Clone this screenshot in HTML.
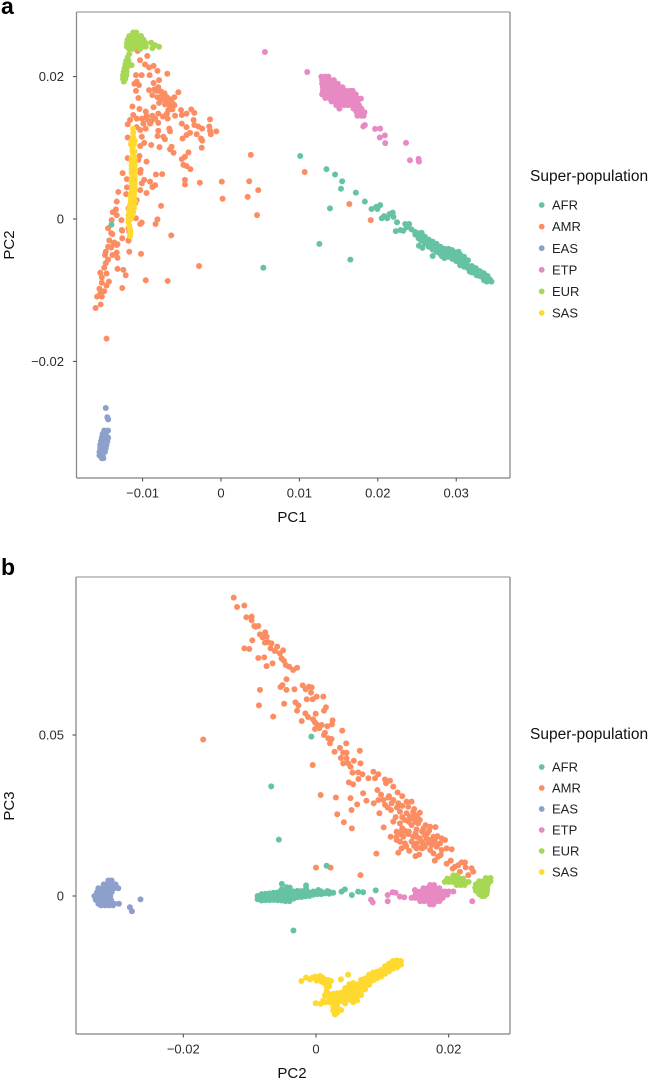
<!DOCTYPE html>
<html lang="en">
<head>
<meta charset="utf-8">
<title>PCA scatter plots by super-population</title>
<style>
html,body{margin:0;padding:0;background:#fff;}
#chart{display:block;width:649px;height:1081px;font-family:"Liberation Sans",Arial,sans-serif;}
</style>
</head>
<body>
<svg id="chart" xmlns="http://www.w3.org/2000/svg" width="649" height="1081" viewBox="0 0 649 1081"></svg>
<script>
/* Categories and colours */
const populations = ["AFR","AMR","EAS","ETP","EUR","SAS"];
const palette = ["#66C2A5","#FC8D62","#8DA0CB","#E78AC3","#A6D854","#FFD92F"];
const drawOrder = ["AMR","AFR","EAS","ETP","EUR","SAS"];

/* Tick values and labels */
const ticksAX = [-0.01,0,0.01,0.02,0.03];
const labelsAX = ["\u22120.01","0","0.01","0.02","0.03"];
const ticksAY = [-0.02,0,0.02];
const labelsAY = ["\u22120.02","0","0.02"];
const ticksBX = [-0.02,0,0.02];
const labelsBX = ["\u22120.02","0","0.02"];
const ticksBY = [0,0.05];
const labelsBY = ["0","0.05"];

/* Values are in units of 0.001 : [x, y] */
const unit = 0.001;

/* Panel a : PC1, PC2 */
const a_AMR = [[-10.63,23.6],[-9.4,22.9],[-10.33,22.3],[-9.69,21.7],[-9.18,21.3],[-8.6,21.5],[-8.1,20.8],[-6.85,20.4],[-10.84,20.2],[-10.12,20.2],[-9.1,20.2],[-7.9,19.5],[-8.6,19.1],[-10.75,19.3],[-11.05,19],[-10.46,18.8],[-10.84,18],[-10.54,17],[-9.18,18.1],[-8.5,18.2],[-8.76,17.4],[-8,18.5],[-7.65,17.9],[-7.2,17.65],[-8.1,17.1],[-7.5,16.8],[-6.9,17.1],[-6.5,16.8],[-5.95,17.1],[-5.44,17.8],[-7.9,16.3],[-7.14,16.1],[-6.5,15.8],[-5.95,16],[-6.72,15.3],[-8.6,15.7],[-11.3,15.8],[-10.4,15.45],[-9.6,15.1],[-8.76,14.5],[-8,14.8],[-6.9,14.8],[-6.8,14.1],[-5.86,14.5],[-5.1,15.3],[-5,14.6],[-4.4,14.8],[-3.8,15.4],[-3.4,14.9],[-1.4,14],[-3.5,13.9],[-5,13.4],[-4.4,12.9],[-3.4,13.2],[-2.9,13],[-2.4,12.7],[-1.5,13],[-1.4,12.4],[-1.3,11.9],[-0.6,12.3],[-3.1,11.9],[-3.95,12.1],[-4.4,11.8],[-4.9,11.3],[-2.55,11.3],[-2.4,11],[-2.46,10],[-6.6,12.7],[-6.5,12.3],[-8,12.4],[-8.1,11.65],[-7.35,11.55],[-7.15,11.2],[-9.6,12.7],[-10.1,11.55],[-10.75,12.9],[-10.3,12.5],[-11.9,11.45],[-10.75,14.1],[-11.6,13.9],[-11.9,13.3],[-11.2,14.6],[-10.1,14.1],[-9.5,14.5],[-9.9,13.4],[-9.05,13.4],[-8.4,14.1],[-8,13.5],[-8.9,10.4],[-7.85,10.1],[-6.3,10.15],[-6.5,9.8],[-6.05,9.3],[-9.8,10.7],[-10.3,10.25],[-4.15,9.35],[-4.6,8.75],[-5,8.4],[-4.8,7.6],[-4.4,7.45],[-3.9,7],[3.8,9],[-10.4,8.85],[-10.55,8.3],[-9.5,8.05],[-11.9,8.55],[-12.55,6.45],[-10.25,6.9],[-10.3,6.5],[-8.3,6.25],[-7.5,6.3],[-12,5.6],[-9.8,5.5],[-10.1,5],[-9.05,5.25],[-8.4,4.75],[-8.75,4.5],[-4.6,5.5],[-4.6,4.85],[-2.7,5.1],[0.1,5.25],[3.6,5.3],[4.75,4.05],[3.4,3.1],[0.2,2.85],[-12,4.45],[-13.1,3.8],[-12.1,3.5],[-10.3,4.05],[-9.5,3.65],[-13.3,2.45],[-7.65,1.85],[-10.75,2.65],[-10.95,2.2],[-13.4,1.35],[-13.8,0.95],[-13.3,0.55],[-11.8,1.5],[-11.2,1],[4.6,0.55],[-8.1,-0.05],[-8.35,-0.7],[-10.1,-0.5],[-10.3,-0.7],[-10.85,0.1],[-12.7,-0.15],[-13.95,-0.15],[-14.4,-1.3],[-14,-2],[-12.65,-1.55],[-11.8,-1.3],[-11.6,-1.8],[-6.35,-2.3],[-12.6,-2.7],[-14.25,-3],[-11.8,-3.05],[-13.7,-3.4],[-13.3,-3.65],[-14.4,-3.9],[-13.85,-2.1],[-12.6,-1.64],[-11.7,-1.8],[-11.8,-3],[-13.6,-3.3],[-13.2,-3.55],[-14,-4],[-13.3,-4.7],[-11.7,-4.6],[-10.2,-4.9],[-14.7,-4.6],[-13.85,-5.05],[-14.8,-5.05],[-13.2,-5.45],[-14.4,-5.7],[-14.7,-6.2],[-14.9,-6.85],[-13.2,-7],[-12.45,-7.15],[-12.15,-7.9],[-15.4,-7.55],[-14.6,-7.65],[-15.2,-8.2],[-9.6,-8.6],[-6.8,-8.7],[-2.8,-6.6],[-14.3,-8.8],[-15.2,-8.95],[-14.6,-9.35],[-15.5,-9.8],[-14.9,-10.15],[-12.6,-9.7],[-15.4,-10.5],[-15.8,-10.9],[-15.2,-10.9],[-15.35,-12],[-16,-12.5],[-14.6,-16.8],[10.67,6.6],[16.37,2.1],[19.1,-0.15],[-7.3,17],[-6.9,16.4],[-6.2,16.3],[-7.5,17.5],[-8.2,18],[-6.2,15.4],[-9.4,14],[-8.9,13.7],[-7.4,14.4]];
const a_AFR = [[10.1,8.85],[13.45,7],[14.55,6.25],[15.45,5.3],[15.3,4.25],[17.2,3.7],[18.35,2.45],[13.9,1.5],[12.55,-3.5],[16.5,-5.7],[5.4,-6.85],[-13.98,-0.8],[19.2,1.4],[19.8,1.7],[19.95,1.4],[20.3,1.95],[20.5,0.1],[20.8,0.4],[21.2,0.1],[21.5,0.7],[21.9,0.9],[22,0.3],[22.45,-0.45],[22.3,-1.7],[22.9,-1.55],[23.25,-1.65],[23.5,-0.7],[24,-0.7],[23.7,-1.15],[24.3,-1.45],[24.75,-1.8],[25.2,-2.25],[25.6,-1.95],[25.2,-2.7],[25.7,-2.5],[26.2,-2.85],[25.8,-3.05],[25.25,-3.75],[25.7,-4.05],[26.65,-3.45],[27,-3.8],[27.3,-4.1],[27.7,-3.9],[27.5,-4.6],[28,-4.35],[28.4,-4.75],[28.15,-5.2],[28.6,-5.3],[29,-4.35],[29.4,-4.35],[29.2,-4.9],[29.6,-4.75],[30.05,-5.05],[29.65,-5.55],[30.05,-5.75],[30.5,-5.55],[30.9,-5.75],[30.5,-6.25],[30.9,-6.45],[31.35,-6.25],[31.55,-6.95],[32,-7.2],[32.4,-7.4],[32.8,-7.65],[33.25,-8.1],[33.65,-7.85],[34.1,-8.35],[34.5,-8.8],[33.55,-8.6],[27,-5.2],[28.8,-4.85],[29.85,-5.3],[30.7,-6],[31.75,-7.4],[32.6,-7.9],[33.9,-8.8],[26.9,-3.2],[27.85,-4.75],[30.3,-4.6],[31.1,-6],[26.5,-2.9],[26.5,-3.9],[27,-3.2],[27,-4.3],[27.5,-3.5],[27.5,-4.2],[28,-3.9],[28,-4.9],[28.5,-4.2],[28.5,-5.5],[29,-4.2],[29,-5.3],[29.5,-4.4],[29.5,-5.6],[30,-4.7],[30,-5.9],[30.5,-5],[30.5,-6.5],[31,-5.3],[31,-6.7],[31.5,-5.8],[31.5,-6.9],[32,-6.6],[32,-7.5],[32.5,-6.9],[32.5,-7.7],[33,-7.3],[33,-8],[33.5,-7.6],[33.5,-8.3],[34,-8],[34,-8.7],[34.3,-8.5],[24.8,-2.2],[25.3,-2],[25.5,-3],[26,-2.5],[26,-3.4]];
const a_EAS = [[-14.7,-26.55],[-14.5,-27.85],[-14.4,-28.15],[-14.9,-29.7],[-14.4,-29.7],[-15.1,-30.2],[-14.7,-30.2],[-15.2,-30.7],[-14.8,-30.7],[-14.4,-30.7],[-15.3,-31.2],[-14.9,-31.2],[-14.5,-31.2],[-15.4,-31.7],[-15,-31.7],[-14.6,-31.7],[-15.4,-32.2],[-15,-32.2],[-14.7,-32.2],[-15.5,-32.7],[-15.1,-32.7],[-14.8,-32.7],[-15.5,-33.2],[-15.1,-33.2],[-15.2,-33.6],[-15,-33.6]];
const a_ETP = [[5.6,23.45],[11,20.65],[18.15,13],[18.35,13.2],[19.65,12.65],[20.3,12.7],[20.25,11.45],[20.9,11.75],[20.95,10.65],[23.6,10.7],[24.1,8.25],[25.2,8.45],[25.25,8.05],[12.8,20],[13.3,20],[13.7,20],[12.9,19.5],[13.4,19.5],[13.9,19.5],[14.4,19.5],[12.9,19],[13.4,19],[13.9,19],[14.4,19],[14.9,19],[13,18.5],[13.5,18.5],[14,18.5],[14.5,18.5],[15,18.5],[15.5,18.5],[13,18],[13.5,18],[14,18],[14.5,18],[15,18],[15.5,18],[16,18],[16.5,18],[16.8,18],[12.9,17.5],[13.4,17.5],[13.9,17.5],[14.4,17.5],[14.9,17.5],[15.4,17.5],[15.9,17.5],[16.4,17.5],[16.9,17.5],[17.2,17.5],[13.3,17],[13.8,17],[14.3,17],[14.8,17],[15.3,17],[15.8,17],[16.3,17],[16.8,17],[17.3,17],[17.85,16.9],[14.1,16.5],[14.6,16.5],[15.1,16.5],[15.6,16.5],[16.1,16.5],[16.6,16.5],[17.1,16.5],[17.4,16.5],[14.7,16],[15.2,16],[15.7,16],[16.2,16],[16.7,16],[17.2,16],[17.6,16],[15.1,15.5],[16.9,15.5],[17.4,15.5],[17.9,15.5],[17.3,15],[17.8,15],[18.3,15],[17.4,14.5],[17.9,14.5],[18.2,14.5]];
const a_EUR = [[-11.2,26.2],[-10.8,26.2],[-11.7,25.7],[-11.2,25.7],[-10.7,25.7],[-10.2,25.7],[-11.9,25.2],[-11.4,25.2],[-10.9,25.2],[-10.4,25.2],[-9.9,25.2],[-12,24.7],[-11.5,24.7],[-11,24.7],[-10.5,24.7],[-10,24.7],[-9.6,24.7],[-12,24.2],[-11.5,24.2],[-11,24.2],[-10.5,24.2],[-10,24.2],[-9.6,24.2],[-11.7,23.9],[-11.2,23.9],[-10.3,23.9],[-8.9,24.75],[-8.75,24],[-8.4,24.4],[-7.9,24.2],[-11.7,23.2],[-11.9,22.7],[-12.1,22.2],[-11.8,22.2],[-12.2,21.7],[-11.9,21.7],[-12.3,21.2],[-12,21.2],[-12.4,20.7],[-12.05,20.7],[-12.5,20.2],[-12.1,20.2],[-12.5,19.7],[-12.2,19.7],[-12.4,19.3],[-11.4,21.6]];
const a_SAS = [[-11.2,12.7],[-11.2,12.1],[-11.2,11.5],[-11.4,11],[-11,11],[-11.5,10.5],[-11.1,10.5],[-11.3,10],[-11.3,9.5],[-11,9.5],[-11.2,9],[-11.4,8.5],[-11,8.5],[-11.4,8],[-11,8],[-11.4,7.5],[-11,7.5],[-11.4,7],[-11,7],[-11.4,6.5],[-11.1,6.5],[-11.3,6],[-11,6],[-11.4,5.5],[-11,5.5],[-11.4,5],[-11,5],[-11.3,4.5],[-11,4.5],[-11.4,4],[-11,4],[-11.5,3.5],[-11.1,3.5],[-11.5,3],[-11.1,3],[-11.5,2.5],[-11,2.5],[-11.6,2],[-11.1,2],[-11.7,1.5],[-11.1,1.5],[-11.7,1],[-11.2,1],[-11.8,0.5],[-11.3,0.5],[-11.8,0],[-11.5,0],[-11.8,-0.5],[-11.7,-1],[-11.6,-1.5],[-11.6,-2],[-11.6,-2.4]];

/* Panel b : PC2, PC3 */
const b_AMR = [[-12.4,92.65],[-11.9,89.75],[-10.8,90.2],[-10.5,86.55],[-9.7,86.75],[-9.7,85.6],[-9.3,83.85],[-8.7,83.85],[-9.05,83.6],[-8.45,81.25],[-7.65,81.9],[-8.05,80.3],[-7.45,80.55],[-9.6,79.4],[-7.7,78.7],[-7.2,78.8],[-6.7,78.45],[-5.85,77.45],[-6.85,76.9],[-6.2,76.1],[-4.95,76.3],[-5.45,75.35],[-10.8,76.9],[-10.05,76.7],[-8.7,73.9],[-7.8,74.1],[-6.55,72.25],[-7.45,71.4],[-5.2,73.8],[-4.85,73.1],[-4.55,71.75],[-4.05,71.2],[-3.45,70.2],[-2.85,70.9],[-4.45,67.3],[-5.05,65.5],[-5.35,64.9],[-4.45,64],[-3.25,64.2],[-8.45,64],[-8.6,59.2],[-4.8,59.7],[-6.45,55.7],[-2,65.4],[-1.55,64.2],[-1.05,65],[-0.65,64.8],[-0.75,63.15],[-1.4,61.1],[-0.5,61.1],[0.1,61.9],[1.1,61.9],[-3.1,60.15],[-2.65,59.2],[-2.85,57.55],[-1.6,56.7],[-1.2,55.6],[-0.05,56.6],[1.5,58.6],[1.2,57.55],[-2.15,54.35],[-0.45,54.85],[-0.15,53.9],[2.5,54.55],[2.4,53.3],[1.7,52.7],[0.85,53.1],[0.2,53.1],[-0.15,51.85],[0.5,52.15],[3.95,51.35],[1.35,50.7],[1.2,50],[1.85,49],[2.35,48.75],[2.1,47.4],[4.55,47.4],[3.6,46],[2.8,44.8],[4.1,44.5],[4.6,44.5],[6.6,45.1],[3.75,42.85],[4.6,42.75],[6.7,41.2],[4.1,41.2],[4.85,41.2],[5.7,42],[5.2,40.15],[5.5,38.3],[6.35,38.4],[7,37.8],[6.4,36.35],[4.95,35.3],[5.6,34.7],[-0.5,40.7],[0.7,31.35],[3,30.6],[5.2,30.4],[3.2,25.4],[4.2,22.9],[5.4,21],[5.35,26.7],[6.2,28.45],[7.1,31.9],[7.6,29.6],[8.7,28.8],[9.25,32.9],[9.55,25.7],[10.2,21.3],[9.1,13.15],[0,8.8],[2.2,8.8],[6.7,6.5],[7.9,36.55],[8.65,38.6],[9.4,37.8],[8.9,36.55],[10.4,36.2],[11.15,35.8],[11.65,33.95],[12.3,32.2],[10.55,35],[9.4,29.8],[10.15,29.8],[10.9,30.6],[11.65,29.8],[10.4,28.3],[11.4,28.8],[12.4,28.8],[13.65,29.3],[14.4,29.3],[11.3,26.7],[12.65,26.2],[13.65,25.7],[14.65,26.2],[15.65,25.9],[13.9,27.7],[11.65,23.1],[12.65,22.55],[13.4,23.6],[14.65,24.1],[15.4,22.55],[14.4,22],[15.15,20.7],[17.2,21.5],[18,21.4],[17.05,20.3],[12.15,20],[11.25,18.4],[12.15,18.4],[13.15,18.4],[13.9,19.25],[14.65,18.4],[15.65,17.9],[16.4,18.95],[17.2,17.4],[18.3,18.6],[18.95,17.9],[19.45,17.4],[12.65,16.9],[13.4,16.35],[14.4,16.9],[15.15,16.35],[16.15,16.35],[17.9,16.9],[12.15,17.4],[12.9,14.8],[14.05,14],[15.15,14.8],[16.4,15.3],[17.2,14.3],[18.2,15.3],[18.95,14.3],[19.7,14.8],[20.45,14.5],[12.4,13.45],[15,12.4],[15.55,12.9],[17.7,13.25],[18.4,12.2],[18.8,12.75],[17.9,11],[20.3,11],[19.7,10],[20.6,8.5],[21.45,9.6],[21.95,10.45],[22.45,10.45],[22.55,8.9],[21.7,7.55],[22.95,6.5],[23.45,8.6],[23.7,7.55],[20.95,9.1],[15.65,23.6],[14.9,25.15],[14.15,24.6],[12.9,20],[15.15,18.4],[15.9,16.9],[16.65,17.9],[17.4,15.85],[18.7,16.35],[17.7,18.4],[-17,48.6],[13,21],[14,20],[15,19.5],[16,20],[16.5,22],[15,23],[14,23],[13,24.5],[12,24.5],[14.8,27],[15.3,24.3],[16.2,21],[16,14.8],[17,16.5],[18,18],[13.6,15.4],[14.8,15.5],[15.8,15],[16.8,19.5],[12.2,27.5],[10.8,27.5],[13,28],[11,31],[9.8,31.5],[13,31],[12.8,19.3],[13.5,20.2]];
const b_AFR = [[-0.7,49.5],[-6.75,34.05],[-5.6,17.5],[1.6,9.4],[-3.4,-10.7],[-8.8,-1],[-8.8,0],[-8.2,-1.4],[-8.2,-0.2],[-8.2,0.6],[-7.6,-1.3],[-7.6,-0.2],[-7.6,0.7],[-7,-1.3],[-7,-0.1],[-7,0.8],[-6.4,-1.2],[-6.4,0],[-6.4,1],[-5.8,-1.3],[-5.8,-0.1],[-5.8,1.1],[-5.2,-1.4],[-5.2,-0.3],[-5.2,1],[-5.2,2],[-4.6,-1.6],[-4.6,-0.4],[-4.6,0.8],[-4.6,1.8],[-4,-1.6],[-4,-0.3],[-4,0.9],[-3.4,-0.8],[-3.4,0.4],[-3.4,1.4],[-2.8,-0.4],[-2.8,0.8],[-2.8,1.6],[-2.2,-0.3],[-2.2,0.8],[-2.2,1.5],[-1.6,-0.1],[-1.6,1.1],[-1.5,2.3],[-1.5,3.3],[-1,0],[-1,1.1],[-0.4,0.4],[-0.4,1.4],[0.2,0.6],[0.35,1.85],[0.8,0.6],[0.8,1.4],[1.4,0.8],[1.7,1.5],[2,0.7],[2,1.3],[2.6,1],[3.85,1.35],[4.35,2.05],[5.4,0.3],[6.35,1.35],[7.1,1.15],[9,1.75],[-5.15,3.75],[-4.45,2.7],[-3.95,2.6]];
const b_EAS = [[-31.3,4.8],[-30.8,4.8],[-32,3.6],[-31.4,3.6],[-30.8,3.6],[-30.2,3.6],[-32.8,2.4],[-32.2,2.4],[-31.6,2.4],[-31,2.4],[-30.4,2.4],[-29.8,2.4],[-33,1.2],[-32.4,1.2],[-31.8,1.2],[-31.2,1.2],[-30.8,1.2],[-33.4,0],[-32.8,0],[-32.2,0],[-31.6,0],[-31,0],[-33.2,-1.2],[-32.6,-1.2],[-32,-1.2],[-31.4,-1.2],[-30.9,-1.2],[-32.8,-2.4],[-32.2,-2.4],[-31.6,-2.4],[-31,-2.4],[-30.4,-2.4],[-29.7,-2.4],[-32.4,-2.9],[-31.8,-2.9],[-31.2,-2.9],[-30.6,-2.9],[-28.05,-3.5],[-27.75,-4.75],[-26.45,-1.05]];
const b_ETP = [[8.3,-1.15],[8.55,-2],[10.8,0.3],[10.8,-1.65],[11.55,1.15],[12,1],[12.65,-0.2],[13.3,-0.4],[23.55,-1.65],[14.9,1.85],[17.2,3.4],[17.8,3.4],[16.2,2.4],[16.8,2.4],[17.4,2.4],[18,2.4],[18.6,2.4],[15.2,1.4],[15.8,1.4],[16.4,1.4],[17,1.4],[17.6,1.4],[18.2,1.4],[18.8,1.4],[19.4,1.4],[20,1.4],[20.7,1.4],[15,0.4],[15.6,0.4],[16.2,0.4],[16.8,0.4],[17.4,0.4],[18,0.4],[18.6,0.4],[19.2,0.4],[19.8,0.4],[14.4,-0.6],[15,-0.6],[15.6,-0.6],[16.2,-0.6],[16.8,-0.6],[17.4,-0.6],[18,-0.6],[18.6,-0.6],[19.1,-0.6],[15.7,-1.6],[16.3,-1.6],[16.9,-1.6],[17.5,-1.6],[18.1,-1.6],[18.6,-1.6],[17.2,-2.6],[17.7,-2.6]];
const b_EUR = [[20.7,6.4],[21.3,6.4],[19.8,5.4],[20.4,5.4],[21,5.4],[21.6,5.4],[22.2,5.4],[19.4,4.4],[20,4.4],[20.6,4.4],[21.2,4.4],[21.8,4.4],[22.4,4.4],[23,4.4],[21.2,3.4],[21.8,3.4],[22.4,3.4],[25.6,5.6],[26.3,5.6],[24.6,4.6],[25.2,4.6],[25.8,4.6],[26.3,4.6],[24.1,3.6],[24.7,3.6],[25.3,3.6],[25.9,3.6],[24,2.6],[24.6,2.6],[25.2,2.6],[25.8,2.6],[24.1,1.6],[24.7,1.6],[25.3,1.6],[25.8,1.6],[24.6,0.6],[25.2,0.6],[25.7,0.6],[25,0],[25.4,0]];
const b_SAS = [[-2.2,-26.4],[-1.5,-25.3],[-0.9,-25.9],[-0.6,-25.4],[-0.15,-25.05],[0,-25.2],[0.6,-24.85],[0.1,-26.3],[0.4,-26],[0.85,-26.6],[1,-25.4],[1.4,-26],[1.85,-26.1],[1.2,-27],[1.8,-27.2],[2,-28],[1.6,-28.15],[0.6,-25.6],[2.25,-26.4],[3.75,-25.9],[4.85,-24.4],[-0.05,-33.3],[0.7,-33.5],[1.1,-32.4],[1.35,-30.75],[1.6,-29.5],[1.4,-30.8],[1.4,-33],[2,-30.5],[2,-31.8],[2,-33],[2.6,-30.4],[2.6,-31.7],[2.6,-33],[2.6,-34.4],[2.6,-35.6],[2.85,-36.8],[3.2,-30.2],[3.2,-31.5],[3.2,-32.8],[3.2,-34.2],[3.2,-35.4],[3.2,-36.2],[3.8,-30],[3.8,-31.3],[3.8,-32.6],[3.8,-35.4],[4.4,-28.6],[4.4,-29.8],[4.4,-31],[4.4,-32.2],[4.4,-33.4],[5,-27.4],[5,-28.6],[5,-29.8],[5,-31],[5,-32.2],[5.6,-27],[5.6,-28.2],[5.6,-29.4],[5.6,-30.6],[5.6,-31.8],[5.6,-33],[6.2,-27.4],[6.2,-28.6],[6.2,-29.8],[6.2,-31],[6.2,-32.4],[6.8,-26],[6.8,-27.2],[6.8,-28.4],[6.8,-29.6],[6.8,-30.8],[7.4,-25.6],[7.4,-26.8],[7.4,-28],[7.4,-29],[8,-24.4],[8,-25.6],[8,-26.8],[8,-27.6],[8.6,-23.8],[8.6,-25],[8.6,-26.2],[9.2,-23.5],[9.2,-24.6],[9.2,-25.6],[9.8,-23],[9.8,-24.2],[9.8,-25],[10.4,-21.8],[10.4,-23],[10.4,-24.2],[11,-21],[11,-22.2],[11,-23.4],[11.6,-20.2],[11.6,-21.4],[11.6,-22.6],[12.2,-20],[12.2,-21.2],[12.2,-22.2],[12.8,-20.2],[12.8,-21.3]];

const seriesA = {AFR:a_AFR,AMR:a_AMR,EAS:a_EAS,ETP:a_ETP,EUR:a_EUR,SAS:a_SAS};
const seriesB = {AFR:b_AFR,AMR:b_AMR,EAS:b_EAS,ETP:b_ETP,EUR:b_EUR,SAS:b_SAS};

/* Axis functions */
function axAX(v){return 221 + v*7840;}
function axAY(v){return 219 - v*7120;}
function axBX(v){return 316 + v*6635;}
function axBY(v){return 896 - v*3220;}

const svg = document.getElementById('chart');
const NS = 'http://www.w3.org/2000/svg';

function line(x1,y1,x2,y2,stroke,w,parent){
  const el = document.createElementNS(NS,'line');
  el.setAttribute('x1',x1);el.setAttribute('y1',y1);el.setAttribute('x2',x2);el.setAttribute('y2',y2);
  el.setAttribute('stroke',stroke);el.setAttribute('stroke-width',w);
  (parent||svg).appendChild(el);
  return el;
}
function text(str,x,y,size,anchor,fill,weight,parent){
  const el = document.createElementNS(NS,'text');
  el.setAttribute('x',x);el.setAttribute('y',y);
  el.setAttribute('font-size',size);el.setAttribute('text-anchor',anchor);
  el.setAttribute('fill',fill);
  if(weight) el.setAttribute('font-weight',weight);
  el.textContent = str;
  (parent||svg).appendChild(el);
  return el;
}

function drawPanel(o){
  const g = document.createElementNS(NS,'g');
  
  
  svg.appendChild(g);

  /* points */
  drawOrder.forEach(function(pop){
    const col = palette[populations.indexOf(pop)];
    const sg = document.createElementNS(NS,'g');
    
    
    sg.setAttribute('fill', col);
    g.appendChild(sg);
    o.series[pop].forEach(function(p){
      const c = document.createElementNS(NS,'circle');
      
      
      c.setAttribute('cx', o.fx(p[0]*unit).toFixed(2));
      c.setAttribute('cy', o.fy(p[1]*unit).toFixed(2));
      c.setAttribute('r', 3);
      sg.appendChild(c);
    });
  });

  /* frame */
  const top = line(o.l,o.t,o.r,o.t,'#b3b3b3',1.4,g);
  
  
  const right = line(o.r,o.t,o.r,o.b,'#8a8a8a',1.3,g);
  
  
  const left = line(o.l,o.t,o.l,o.b,'#8a8a8a',1.3,g);
  
  
  const bottom = line(o.l,o.b,o.r,o.b,'#808080',1.3,g);
  
  

  /* x ticks */
  o.xt.forEach(function(v,i){
    const x = o.fx(v);
    const t = line(x,o.b,x,o.b+3.5,'#444',1,g);
    
    
    const lb = text(o.xl[i],x,o.b+19.5,13,'middle','#2b2b2b',null,g);
    
    
  });
  /* y ticks */
  o.yt.forEach(function(v,i){
    const y = o.fy(v);
    const t = line(o.l-3.5,y,o.l,y,'#444',1,g);
    
    
    const lb = text(o.yl[i],64,y+4.6,13,'end','#2b2b2b',null,g);
    
    
  });

  /* axis titles */
  const xT = text(o.xTitle,o.xTitleX,o.xTitleY,15,'middle','#111',null,g);
  
  
  const yT = text(o.yTitle,0,0,15,'middle','#111',null,g);
  yT.setAttribute('transform','translate(14 ' + o.yTitleY + ') rotate(-90)');
  
  

  /* panel letter */
  const letter = text(o.letter,1,o.letterY,23,'start','#000','bold',g);
  
  

  /* legend */
  const lg = document.createElementNS(NS,'g');
  
  
  g.appendChild(lg);
  const title = text('Super-population',530,o.legendY,15.5,'start','#111',null,lg);
  
  
  populations.forEach(function(pop,i){
    const y = o.legendFirst + i*o.legendStep;
    const d = document.createElementNS(NS,'circle');
    d.setAttribute('cx',541.7);d.setAttribute('cy',y);d.setAttribute('r',2.9);d.setAttribute('fill',palette[i]);
    
    
    lg.appendChild(d);
    const tx = text(pop,552,y+4.6,13,'start','#222',null,lg);
    
    
  });
}

drawPanel({id:'pc1-pc2',letter:'a',letterY:14,series:seriesA,fx:axAX,fy:axAY,l:76.5,r:510,t:12,b:478,
  xt:ticksAX,xl:labelsAX,yt:ticksAY,yl:labelsAY,xTitle:'PC1',xTitleX:292,xTitleY:522,yTitle:'PC2',yTitleY:245,legendY:181,legendFirst:205,legendStep:21.6});
drawPanel({id:'pc2-pc3',letter:'b',letterY:575,series:seriesB,fx:axBX,fy:axBY,l:76,r:510,t:577,b:1034,
  xt:ticksBX,xl:labelsBX,yt:ticksBY,yl:labelsBY,xTitle:'PC2',xTitleX:292,xTitleY:1078,yTitle:'PC3',yTitleY:806,legendY:739,legendFirst:767,legendStep:21});
</script>
</body>
</html>
